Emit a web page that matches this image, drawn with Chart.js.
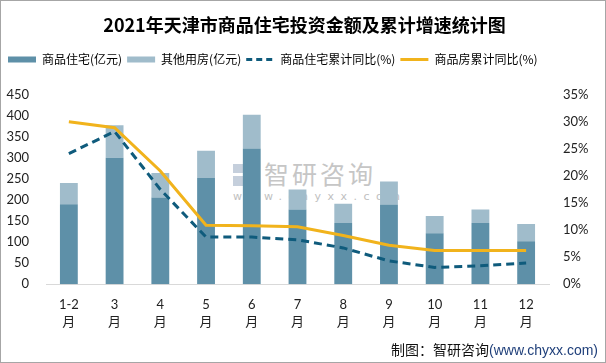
<!DOCTYPE html>
<html>
<head>
<meta charset="utf-8">
<script src="https://cdn.jsdelivr.net/npm/chart.js@4/dist/chart.umd.min.js"></script>
<style>
  html, body { margin: 0; padding: 0; background: #fff; }
  .wrap { position: relative; width: 606px; height: 363px; overflow: hidden; }
  .wrap canvas { position: absolute; left: 0; top: 0; }
  .frame { position: absolute; left: 0; top: 0; width: 606px; height: 363px; box-sizing: border-box; border: 1px solid #a6a6a6; pointer-events: none; }
  .wm { position: absolute; left: 233px; top: 158px; color: #c6c6c6; font-family: "Noto Sans CJK SC"; }
  .wm .logo { position: absolute; left: 0; top: 6px; width: 26px; height: 22px; }
  .wm .logo i { position: absolute; background: #c5cfdc; }
  .wm .name { position: absolute; left: 31px; top: -3px; font-size: 25px; letter-spacing: 3px; white-space: nowrap; }
  .wm .url { position: absolute; left: 0; top: 32px; font-size: 11px; letter-spacing: 6.5px; font-family: "DejaVu Sans"; white-space: nowrap; color: #c0c0c0; }
  .foot { position: absolute; right: 8px; top: 339px; font-size: 14px; font-family: "Noto Sans CJK SC"; color: #111; white-space: nowrap; }
  .foot span { color: #1f3f7a; font-family: "Liberation Sans"; }
</style>
</head>
<body>
<div class="wrap">
  <div class="wm">
    <div class="logo"><i style="left:0;top:0;width:10px;height:9px"></i><i style="left:12px;top:0;width:14px;height:9px"></i><i style="left:0;top:12px;width:10px;height:10px"></i><i style="left:12px;top:12px;width:14px;height:10px;background:#aebdd0"></i></div>
    <div class="name">智研咨询</div>
    <div class="url">www.chyxx.com</div>
  </div>
  <canvas id="chart" width="606" height="363"></canvas>
  <div class="foot">制图：智研咨询<span>(www.chyxx.com)</span></div>
  <div class="frame"></div>
</div>
<script>
// 2021年天津市商品住宅投资金额及累计增速

const months = ['1-2', '3', '4', '5', '6', '7', '8', '9', '10', '11', '12'];
const residential = [190, 300, 206, 252, 322, 177, 145, 189, 121, 145, 102];   // 商品住宅(亿元)
const otherHousing = [50, 77, 58, 65, 80, 48, 46, 55, 41, 32, 41];              // 其他用房(亿元)
const residentialYoY = [24.1, 28.2, 17.5, 8.7, 8.7, 8.2, 6.7, 4.3, 3.1, 3.4, 3.9]; // 商品住宅累计同比(%)
const commercialYoY = [30.0, 28.9, 20.9, 10.9, 10.8, 10.6, 9.0, 7.2, 6.2, 6.2, 6.2]; // 商品房累计同比(%)

const colors = {
    residential: '#5e90a8',
    other: '#a0bccb',
    dashed: '#0f5b7c',
    yellow: '#f1b31c'
};

const tickFont = { family: 'Lato, "Noto Sans CJK SC"', size: 13 };

// push the plot area down below the legend
const legendGap = {
    id: 'legendGap',
    beforeInit(chart) {
        const fit = chart.legend.fit;
        chart.legend.fit = function () {
            fit.bind(chart.legend)();
            this.height += 19;
        };
    }
};

new Chart(document.getElementById('chart'), {
    type: 'bar',
    data: {
        labels: months.map(m => [m, '月']),
        datasets: [
            {
                label: '商品住宅(亿元)',
                data: residential,
                backgroundColor: colors.residential,
                stack: 'amt',
                yAxisID: 'y',
                order: 2,
                categoryPercentage: 1,
                barPercentage: 0.39
            },
            {
                label: '其他用房(亿元)',
                data: otherHousing,
                backgroundColor: colors.other,
                stack: 'amt',
                yAxisID: 'y',
                order: 2,
                categoryPercentage: 1,
                barPercentage: 0.39
            },
            {
                type: 'line',
                label: '商品住宅累计同比(%)',
                data: residentialYoY,
                borderColor: colors.dashed,
                borderWidth: 3,
                borderDash: [8, 5],
                pointRadius: 0,
                tension: 0,
                yAxisID: 'y1',
                order: 1
            },
            {
                type: 'line',
                label: '商品房累计同比(%)',
                data: commercialYoY,
                borderColor: colors.yellow,
                borderWidth: 3,
                pointRadius: 0,
                tension: 0,
                yAxisID: 'y1',
                order: 0
            }
        ]
    },
    options: {
        responsive: false,
        animation: false,
        layout: { padding: { left: 3, right: 0, top: 0, bottom: 21 } },
        plugins: {
            tooltip: { enabled: false },
            title: {
                display: true,
                text: '2021年天津市商品住宅投资金额及累计增速统计图',
                color: '#000',
                font: { family: '"Noto Sans CJK SC"', size: 18, weight: 'bold' },
                padding: { top: 14, bottom: 13 }
            },
            legend: {
                display: true,
                position: 'top',
                align: 'start',
                labels: {
                    color: '#111',
                    font: { family: '"Noto Sans CJK SC"', size: 12 },
                    usePointStyle: true,
                    pointStyleWidth: 28,
                    boxHeight: 6,
                    padding: 5,
                    generateLabels: () => [
                        { text: '商品住宅(亿元)', fillStyle: colors.residential, strokeStyle: colors.residential, lineWidth: 0, pointStyle: 'rect', datasetIndex: 0 },
                        { text: '其他用房(亿元)', fillStyle: colors.other, strokeStyle: colors.other, lineWidth: 0, pointStyle: 'rect', datasetIndex: 1 },
                        { text: '商品住宅累计同比(%)', fillStyle: colors.dashed, strokeStyle: colors.dashed, lineWidth: 3, lineDash: [6, 4], pointStyle: 'line', datasetIndex: 2 },
                        { text: '商品房累计同比(%)', fillStyle: colors.yellow, strokeStyle: colors.yellow, lineWidth: 3, pointStyle: 'line', datasetIndex: 3 }
                    ]
                }
            }
        },
        scales: {
            x: {
                stacked: true,
                grid: { display: false, drawTicks: false },
                border: { display: true, color: '#d9d9d9', width: 1 },
                ticks: { color: '#222', font: { ...tickFont, lineHeight: 1.3 }, padding: 12, maxRotation: 0, autoSkip: false }
            },
            y: {
                stacked: true,
                position: 'left',
                min: 0,
                max: 450,
                grid: { display: false, drawTicks: false },
                border: { display: false },
                ticks: { stepSize: 50, color: '#222', font: tickFont, padding: 17 },
                afterFit: (scale) => { scale.width = 43; }
            },
            y1: {
                position: 'right',
                min: 0,
                max: 35,
                grid: { display: false, drawTicks: false },
                border: { display: false },
                ticks: { stepSize: 5, color: '#222', font: tickFont, padding: 14, callback: v => v + '%' },
                afterFit: (scale) => { scale.width = 57; }
            }
        }
    },
    plugins: [legendGap]
});
</script>
</body>
</html>
